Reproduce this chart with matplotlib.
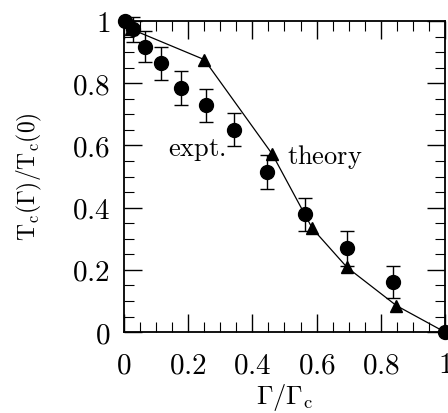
import matplotlib
matplotlib.use("Agg")
import matplotlib.pyplot as plt
from matplotlib.ticker import MultipleLocator, FuncFormatter

plt.rcParams['mathtext.fontset'] = 'cm'
plt.rcParams['font.family'] = 'serif'
plt.rcParams['font.serif'] = ['DejaVu Serif']

# experimental points (circles) with error bars
expt_x = [0.003, 0.029, 0.065, 0.114, 0.177, 0.255, 0.343, 0.445, 0.563, 0.695, 0.837, 1.0]
expt_y = [1.0, 0.973, 0.917, 0.864, 0.784, 0.730, 0.650, 0.514, 0.378, 0.269, 0.162, 0.0]
expt_err = [0.0, 0.04, 0.05, 0.054, 0.054, 0.053, 0.053, 0.054, 0.054, 0.057, 0.052, 0.0]

# theory curve (triangles)
theory_x = [0.0, 0.02, 0.25, 0.462, 0.587, 0.695, 0.849, 1.0]
theory_y = [1.0, 0.975, 0.876, 0.572, 0.333, 0.208, 0.085, 0.0]

fig = plt.figure(figsize=(4.48, 4.13), dpi=100)
ax = fig.add_axes([0.277, 0.196, 0.716, 0.753])

ax.plot(theory_x, theory_y, color='black', lw=0.9, zorder=2, clip_on=False)
ax.plot(theory_x[1:-1], theory_y[1:-1], linestyle='none', marker='^',
        color='black', markersize=8, zorder=3, clip_on=False)

ax.errorbar(expt_x, expt_y, yerr=expt_err, fmt='o', color='black',
            markersize=10, ecolor='black', elinewidth=1, capsize=5,
            capthick=1, zorder=4, clip_on=False)

ax.text(0.137, 0.585, r'$\mathrm{expt.}$', fontsize=19, va='center', ha='left')
ax.text(0.507, 0.564, r'$\mathrm{theory}$', fontsize=19, va='center', ha='left')

ax.set_xlim(0, 1)
ax.set_ylim(0, 1)

ax.xaxis.set_major_locator(MultipleLocator(0.2))
ax.xaxis.set_minor_locator(MultipleLocator(0.05))
ax.yaxis.set_major_locator(MultipleLocator(0.2))
ax.yaxis.set_minor_locator(MultipleLocator(0.05))
fmt = FuncFormatter(lambda v, pos: r'$\mathrm{%g}$' % round(v, 2))
ax.xaxis.set_major_formatter(fmt)
ax.yaxis.set_major_formatter(fmt)

ax.tick_params(which='both', direction='in', top=True, right=True, labelsize=21)
ax.tick_params(which='major', length=13, width=1)
ax.tick_params(which='minor', length=7, width=0.8)
ax.tick_params(axis='x', which='major', pad=14)
ax.tick_params(axis='y', which='major', pad=10)

for s in ax.spines.values():
    s.set_linewidth(1.3)

ax.set_xlabel(r'$\Gamma/\Gamma_{\mathrm{c}}$', fontsize=19, labelpad=2)
ax.set_ylabel(r'$\mathrm{T_c(\Gamma)/T_c(0)}$', fontsize=17, labelpad=20)

fig.savefig('out.png', dpi=100)
